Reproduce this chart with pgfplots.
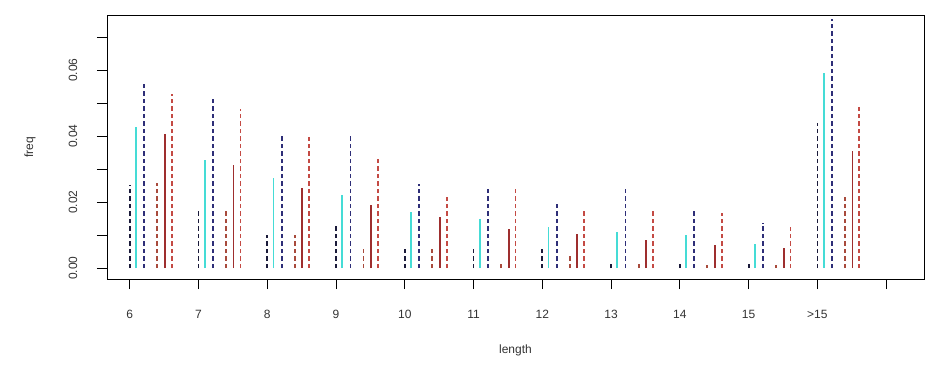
\documentclass[border=0pt]{standalone}
\usepackage{fontspec}
\setmainfont{Liberation Sans}
\usepackage{pgfplots}
\pgfplotsset{compat=1.18}
\usepackage{pgfplotstable}

% relative frequencies of length, six series per length class
\pgfplotstableread{
pos a      b      c      d      e      f
0   0.0252 0.0428 0.0565 0.0257 0.0405 0.0527
1   0.0173 0.0327 0.0517 0.0178 0.0312 0.0482
2   0.0100 0.0272 0.0408 0.0100 0.0243 0.0396
3   0.0133 0.0221 0.0400 0.0060 0.0191 0.0332
4   0.0060 0.0171 0.0255 0.0060 0.0156 0.0216
5   0.0060 0.0150 0.0246 0.0019 0.0117 0.0241
6   0.0060 0.0125 0.0201 0.0044 0.0102 0.0176
7   0.0019 0.0110 0.0238 0.0019 0.0085 0.0176
8   0.0019 0.0100 0.0176 0.0010 0.0070 0.0166
9   0.0019 0.0073 0.0137 0.0010 0.0060 0.0123
10  0.0438 0.0592 0.0754 0.0216 0.0355 0.0489
}\freqtable

\definecolor{sA}{HTML}{1A1A3A}
\definecolor{sB}{HTML}{45DCD6}
\definecolor{sC}{HTML}{2E2E78}
\definecolor{sD}{HTML}{A84A3C}
\definecolor{sE}{HTML}{9E2E2E}
\definecolor{sF}{HTML}{C44A44}

\begin{document}
\begin{tikzpicture}[x=1pt,y=1pt]
\useasboundingbox (-107pt,-90pt) rectangle (821pt,279pt);
\begin{axis}[
  at={(0pt,0pt)}, anchor=south west,
  scale only axis, width=817pt, height=264pt,
  xmin=-0.33, xmax=11.55,
  ymin=-0.00333, ymax=0.07667,
  axis line style={line width=0.8pt},
  tick pos=left, tick align=outside,
  major tick length=10pt,
  tick style={line width=0.8pt, black},
  scaled y ticks=false,
  xtick={0,...,11},
  xticklabels={6,7,8,9,10,11,12,13,14,15,>15,},
  ytick={0,0.01,0.02,0.03,0.04,0.05,0.06,0.07},
  yticklabels={0.00,,0.02,,0.04,,0.06,},
  tick label style={font=\fontsize{12}{14}\selectfont, text=black!80},
  xticklabel style={anchor=center, yshift=-25pt},
  yticklabel style={rotate=90, anchor=center, yshift=24pt},
  xlabel={length}, ylabel={freq},
  label style={font=\fontsize{12}{14}\selectfont, text=black!80},
  xlabel style={at={(axis description cs:0.5,0)}, anchor=center, yshift=-71pt},
  ylabel style={at={(axis description cs:0,0.5)}, anchor=center, yshift=77pt},
  every axis plot/.append style={ycomb, no marks, line width=1.8pt},
  clip=false,
]
\addplot[sA, dash pattern=on 4.5pt off 3pt] table[x expr=\thisrow{pos}, y=a] {\freqtable};
\addplot[sB] table[x expr=\thisrow{pos}+0.09, y=b] {\freqtable};
\addplot[sC, dash pattern=on 4.5pt off 3pt] table[x expr=\thisrow{pos}+0.21, y=c] {\freqtable};
\addplot[sD, dash pattern=on 4.5pt off 3pt] table[x expr=\thisrow{pos}+0.40, y=d] {\freqtable};
\addplot[sE] table[x expr=\thisrow{pos}+0.51, y=e] {\freqtable};
\addplot[sF, dash pattern=on 4.5pt off 3pt] table[x expr=\thisrow{pos}+0.61, y=f] {\freqtable};
\end{axis}
\end{tikzpicture}
\end{document}
